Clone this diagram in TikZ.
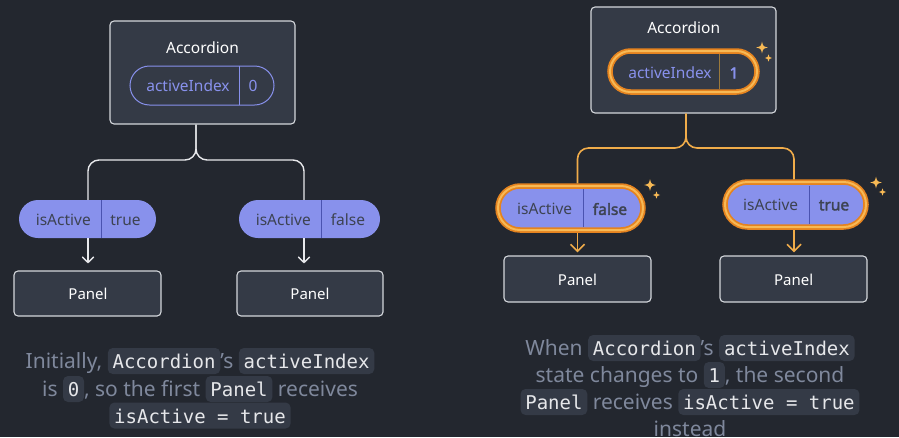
\documentclass[tikz,border=0pt]{standalone}
\usepackage{fontspec}
\setmainfont{Noto Sans}
\setmonofont{DejaVu Sans Mono}
\newfontfamily\fbold{Noto Sans}[FakeBold=2.2]
\usetikzlibrary{arrows.meta,calc}
\definecolor{bgc}{HTML}{23272F}
\definecolor{boxfill}{HTML}{343A46}
\definecolor{boxline}{HTML}{D4D7DC}
\definecolor{purp}{HTML}{8891EC}
\definecolor{pilltext}{HTML}{3D4352}
\definecolor{pdiv}{HTML}{4A53B0}
\definecolor{ordark}{HTML}{E5831F}
\definecolor{orlight}{HTML}{F7B955}
\definecolor{orconn}{HTML}{F0AC4A}
\definecolor{tandiv}{HTML}{9C7A3C}
\definecolor{wline}{HTML}{E8E9EC}
\definecolor{captext}{HTML}{7F889C}
\definecolor{codefill}{HTML}{343A46}
\definecolor{codetext}{HTML}{E6E7EA}
\tikzset{
  box/.style={draw=boxline, fill=boxfill, line width=1.1pt, rounded corners=4pt, inner sep=0pt},
  lbl/.style={text=white, font=\fontsize{15.5}{18}\selectfont, inner sep=0pt},
  panlbl/.style={text=white, font=\fontsize{15}{18}\selectfont, inner sep=0pt},
  ptxt/.style={text=pilltext, font=\fontsize{15.5}{18}\selectfont, inner sep=0pt},
  btxt/.style={text=pilltext, font=\fontsize{15.5}{18}\fbold, inner sep=0pt},
  itxt/.style={text=purp, font=\fontsize{15.5}{18}\selectfont, inner sep=0pt},
  pillO/.style={draw=purp, line width=1pt, fill=boxfill, inner sep=0pt},
  pillF/.style={fill=purp, inner sep=0pt},
  hot/.style={draw=ordark, line width=5.5pt, postaction={draw=orlight, line width=2pt}},
  conn/.style={draw=wline, line width=1.4pt, rounded corners=11pt},
  oconn/.style={draw=orconn, line width=1.6pt, rounded corners=11pt},
  arr/.style={-{Straight Barb[length=5.5pt,width=11.5pt]}, line width=1.4pt},
  oarr/.style={-{Straight Barb[length=7pt,width=14pt]}, line width=1.7pt},
  codebox/.style={fill=codefill, rounded corners=5pt, text=codetext, font=\fontsize{19}{22}\ttfamily, inner xsep=4.8pt, inner ysep=0pt, text height=20.7pt, text depth=5.3pt},
  caption/.style={text=captext, font=\fontsize{21}{27}\selectfont, inner sep=0pt, anchor=base},
  sparkc/.style={fill=orlight}
}
\newcommand\cb[1]{\tikz[baseline=(cbn.base)]\node[codebox](cbn){#1};}
\newcommand\sparkle[3]{\fill[sparkc, shift={(#1,#2)}, scale=#3] (0,-1) .. controls (0.2,-0.2) .. (1,0) .. controls (0.2,0.2) .. (0,1) .. controls (-0.2,0.2) .. (-1,0) .. controls (-0.2,-0.2) .. (0,-1) -- cycle;}
\begin{document}
\begin{tikzpicture}[x=1pt,y=-1pt]
\fill[bgc] (0,0) rectangle (899,437);
\useasboundingbox (0,0) rectangle (899,437);

% ---------------- left diagram ----------------
\node[box, minimum width=185pt, minimum height=103pt] (accA) at (202.5,72.5) {};
\node[lbl] (accAt) at (202.5,47.5) {Accordion};
\node[pillO, minimum width=144pt, minimum height=39pt, rounded corners=19.5pt] (aiA) at (202,85.5) {};
\draw[draw=purp, line width=1pt] (239,66) -- (239,105);
\node[itxt] (aiAk) at (188,86) {activeIndex};
\node[itxt] (aiAv) at (253,86) {0};

\node[pillF, minimum width=137pt, minimum height=38pt, rounded corners=19pt] (pA1) at (87.5,219) {};
\draw[draw=pdiv, line width=1pt] (101,200) -- (101,238);
\node[ptxt] (pA1k) at (63.3,220) {isActive};
\node[ptxt] (pA1v) at (125.5,220) {true};

\node[pillF, minimum width=141pt, minimum height=38pt, rounded corners=19pt] (pA2) at (309.5,219) {};
\draw[draw=pdiv, line width=1pt] (321,200) -- (321,238);
\node[ptxt] (pA2k) at (283.3,220) {isActive};
\node[ptxt] (pA2v) at (348,220) {false};

\node[box, minimum width=147pt, minimum height=45pt] (panA1) at (87.5,293.5) {};
\node[panlbl] (panA1t) at (88,293.5) {Panel};
\node[box, minimum width=146pt, minimum height=45pt] (panA2) at (310,293.5) {};
\node[panlbl] (panA2t) at (310,293.5) {Panel};

\coordinate (jA) at (196,160);
\coordinate (tA1) at ([xshift=0.5pt]pA1.north);
\coordinate (tA2) at ([xshift=-5.5pt]pA2.north);
\coordinate (bA1) at ([xshift=0.5pt]pA1.south);
\coordinate (bA2) at ([xshift=-5.5pt]pA2.south);
\coordinate (iA1) at ([xshift=0.5pt]panA1.north);
\coordinate (iA2) at ([xshift=-6pt]panA2.north);
\draw[conn] (accA.south -| jA) -- (jA) -- (jA -| tA1) -- (tA1);
\draw[conn] (accA.south -| jA) -- (jA) -- (jA -| tA2) -- (tA2);
\draw[arr, wline, shorten >=7pt] (bA1) -- (iA1);
\draw[arr, wline, shorten >=7pt] (bA2) -- (iA2);

% ---------------- right diagram ----------------
\node[box, minimum width=185pt, minimum height=106pt] (accB) at (683.5,60) {};
\node[lbl] (accBt) at (683.7,27.5) {Accordion};
\node[pillO, hot, minimum width=147pt, minimum height=41pt, rounded corners=20.5pt] (aiB) at (683.5,71.5) {};
\draw[draw=tandiv, line width=1pt] (719,54) -- (719,89);
\node[itxt] (aiBk) at (670,73) {activeIndex};
\node[itxt, font=\fontsize{15.5}{18}\fbold] (aiBv) at (734,73) {1};
\sparkle{762}{47.5}{5.8}
\sparkle{768.5}{58}{3.6}

\node[pillF, hot, minimum width=145pt, minimum height=44pt, rounded corners=22pt] (pB1) at (570.5,208) {};
\draw[draw=pdiv, line width=1pt] (583,189) -- (583,227);
\node[ptxt] (pB1k) at (544.7,209) {isActive};
\node[btxt] (pB1v) at (610,209) {false};
\sparkle{650}{185}{5.8}
\sparkle{656.5}{195}{3.6}

\node[pillF, hot, minimum width=141pt, minimum height=45pt, rounded corners=22.5pt] (pB2) at (795.5,204.5) {};
\draw[draw=pdiv, line width=1pt] (809,185.5) -- (809,223.5);
\node[ptxt] (pB2k) at (770.7,205.3) {isActive};
\node[btxt] (pB2v) at (834,205.3) {true};
\sparkle{876}{182.5}{5.8}
\sparkle{882.5}{192}{3.6}

\node[box, minimum width=147pt, minimum height=46pt] (panB1) at (577.5,279) {};
\node[panlbl] (panB1t) at (577.5,279.4) {Panel};
\node[box, minimum width=147pt, minimum height=46pt] (panB2) at (793.5,279) {};
\node[panlbl] (panB2t) at (793.7,279.4) {Panel};

\coordinate (jB) at (686,148);
\coordinate (tB1) at ([xshift=7pt]pB1.north);
\coordinate (tB2) at ([xshift=-1.5pt]pB2.north);
\coordinate (bB1) at ([xshift=7pt]pB1.south);
\coordinate (bB2) at ([xshift=-1.5pt]pB2.south);
\coordinate (iB2) at ([xshift=0.5pt]panB2.north);
\draw[oconn] (accB.south -| jB) -- (jB) -- (jB -| tB1) -- (tB1);
\draw[oconn] (accB.south -| jB) -- (jB) -- (jB -| tB2) -- (tB2);
\draw[oarr, orconn, shorten >=3pt] (bB1) -- (panB1.north);
\draw[oarr, orconn, shorten >=3pt] (bB2) -- (iB2);

% ---------------- captions ----------------
\node[caption] (capA1) at (200,368.7) {Initially, \cb{Accordion}’s \cb{activeIndex}};
\node[caption] (capA2) at (200,396.7) {is \cb{0}, so the first \cb{Panel} receives};
\node[caption] (capA3) at (200,423.2) {\cb{isActive = true}};

\node[caption] (capB1) at (690,355.7) {When \cb{Accordion}’s \cb{activeIndex}};
\node[caption] (capB2) at (690,382.7) {state changes to \cb{1}, the second};
\node[caption] (capB3) at (690,409.7) {\cb{Panel} receives \cb{isActive = true}};
\node[caption] (capB4) at (690,436.5) {instead};
\end{tikzpicture}
\end{document}
